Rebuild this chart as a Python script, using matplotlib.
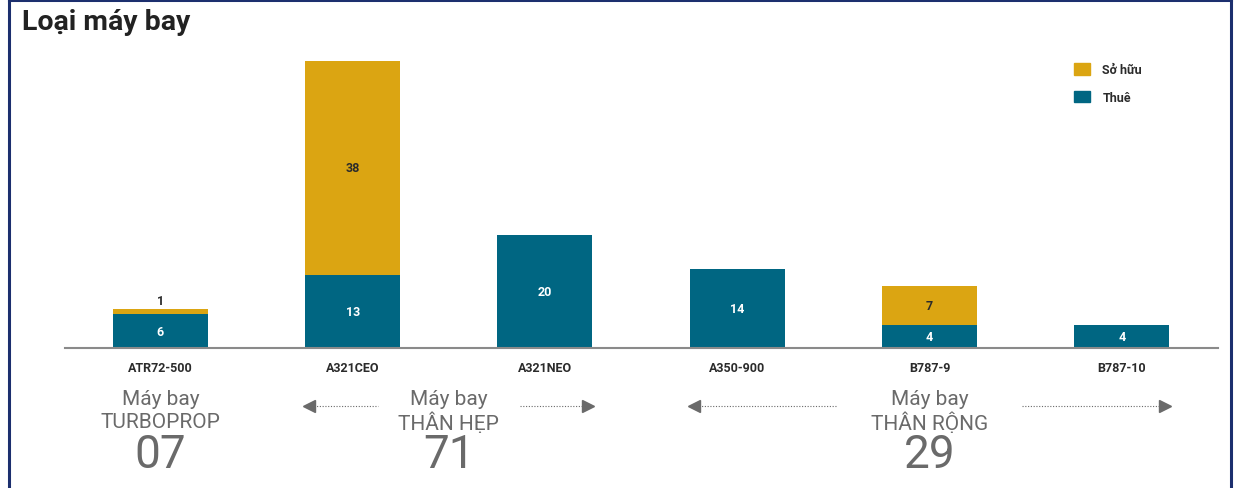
import matplotlib
matplotlib.use("Agg")
import matplotlib.pyplot as plt
from matplotlib.lines import Line2D
from matplotlib.patches import Patch
import matplotlib.transforms as mtransforms

plt.rcParams['font.family'] = ['Roboto', 'DejaVu Sans']

# Fleet by aircraft type
aircraft = ["ATR72-500", "A321CEO", "A321NEO", "A350-900", "B787-9", "B787-10"]
leased = [6, 13, 20, 14, 4, 4]      # Thuê
owned = [1, 38, 0, 0, 7, 0]         # Sở hữu

# Aircraft groups: label, first and last type index
group_names = ["TURBOPROP", "THÂN HẸP", "THÂN RỘNG"]
group_spans = [(0, 0), (1, 2), (3, 5)]

GOLD = "#DBA512"
TEAL = "#006682"
DARK = "#2b2b2b"
GREY = "#6a6a6a"
NAVY = "#1c2f6e"

W, H = 1245, 489
fig = plt.figure(figsize=(W / 100, H / 100), dpi=100)

base_px, top_px = 349, 39.4
ax = fig.add_axes([65 / W, (H - base_px) / H, (1218 - 65) / W, (base_px - top_px) / H])

x = list(range(len(aircraft)))
bw = 0.494
ax.bar(x, leased, width=bw, color=TEAL, label="Thuê", zorder=2)
ax.bar(x, owned, width=bw, bottom=leased, color=GOLD, label="Sở hữu", zorder=2)

for i in x:
    ax.text(i, leased[i] / 2, str(leased[i]), ha="center", va="center",
            color="white", fontsize=9, fontweight="bold")
    if owned[i] > 0:
        if owned[i] >= 3:
            ax.text(i, leased[i] + owned[i] / 2, str(owned[i]), ha="center",
                    va="center", color=DARK, fontsize=9, fontweight="bold")
        else:
            ax.text(i, leased[i] + owned[i] + 1.5, str(owned[i]), ha="center",
                    va="center", color=DARK, fontsize=9, fontweight="bold")

ax.set_xlim(-0.496, 5.50)
ax.set_ylim(0, 55)
ax.set_yticks([])
ax.set_xticks(x)
ax.set_xticklabels(aircraft, fontsize=9, fontweight="bold", color=DARK)
ax.tick_params(axis="x", length=0, pad=9)
for s in ["top", "left", "right"]:
    ax.spines[s].set_visible(False)
ax.spines["bottom"].set_color("#8a8a8a")
ax.spines["bottom"].set_linewidth(1.5)

handles = [Patch(color=GOLD, label="Sở hữu"), Patch(color=TEAL, label="Thuê")]
fig.legend(handles=handles, loc="upper left", bbox_to_anchor=(1063 / W, 1 - 53 / H),
           frameon=False, handlelength=1.25, handleheight=1.0,
           labelspacing=1.15, handletextpad=1.0, labelcolor=DARK,
           prop={"weight": "bold", "size": 9})

# Title
fig.text(22 / W, 1 - 22 / H, "Loại máy bay", fontsize=20.5, fontweight="bold",
         color="#222222", va="center", ha="left")

# Group annotations under the axis
tr = mtransforms.blended_transform_factory(ax.transData, fig.transFigure)
gaps = [None, 0.37, 0.48]
for name, (a, b), gap in zip(group_names, group_spans, gaps):
    cx = (a + b) / 2
    total = sum(leased[a:b + 1]) + sum(owned[a:b + 1])
    ax.text(cx, 1 - 400 / H, "Máy bay", transform=tr, ha="center", va="center",
            fontsize=15, color=GREY)
    ax.text(cx, 1 - 423 / H, name, transform=tr, ha="center", va="center",
            fontsize=15, color=GREY)
    ax.text(cx, 1 - 455 / H, f"{total:02d}", transform=tr, ha="center",
            va="center", fontsize=33, color=GREY)
    if gap is not None:
        left = a - bw / 2
        right = b + bw / 2
        ya = 1 - 407 / H
        ax.plot([left + 0.03, cx - gap], [ya, ya], transform=tr, color=GREY,
                linestyle=(0, (1, 1.5)), linewidth=0.8, clip_on=False)
        ax.plot([cx + gap, right - 0.03], [ya, ya], transform=tr, color=GREY,
                linestyle=(0, (1, 1.5)), linewidth=0.8, clip_on=False)
        ax.plot([left + 0.022], [ya], transform=tr, marker="<", markersize=8,
                color=GREY, clip_on=False, linestyle="none")
        ax.plot([right - 0.022], [ya], transform=tr, marker=">", markersize=8,
                color=GREY, clip_on=False, linestyle="none")

# Panel frame (open at the bottom)
def px(xp, yp):
    return xp / W, 1 - yp / H

for (x0, y0), (x1, y1) in [((9, 1), (1231, 1)), ((9, 1), (9, 489)), ((1231, 1), (1231, 489))]:
    a0, b0 = px(x0, y0)
    a1, b1 = px(x1, y1)
    fig.add_artist(Line2D([a0, a1], [b0, b1], color=NAVY, linewidth=2.2,
                          transform=fig.transFigure))

fig.savefig("out.png", dpi=100, facecolor="white")
